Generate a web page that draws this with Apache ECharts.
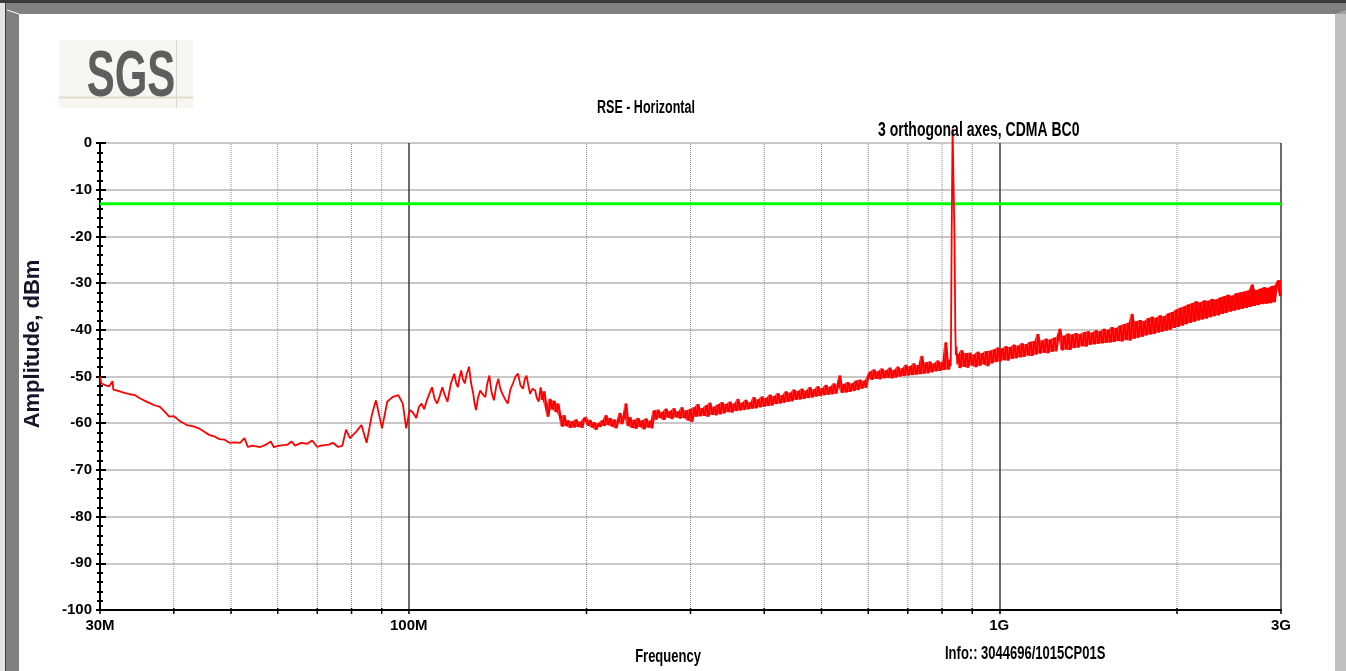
<!DOCTYPE html>
<html>
<head>
<meta charset="utf-8">
<script src="https://cdn.jsdelivr.net/npm/echarts@6/dist/echarts.min.js"></script>
<style>
  html, body { margin: 0; padding: 0; background: #ffffff; }
  #chart { width: 1346px; height: 671px; }
</style>
</head>
<body>
<div id="chart"></div>
<script>
// ---- Axis text -------------------------------------------------------------
const xTickLabels = { 30: '30M', 100: '100M', 1000: '1G', 3000: '3G' };
const minorGridMHz = [40, 50, 60, 70, 80, 90, 200, 300, 400, 500, 600, 700, 800, 900, 2000];

// ---- Limit line (dBm) ------------------------------------------------------
const limitDbm = -13;

// ---- Measured trace --------------------------------------------------------
// 30 MHz .. 166 MHz, [MHz, dBm]
const lowBand = [
  [30, -50.0], [30.15, -51.5], [30.7, -51.9], [31.1, -52.1], [31.5, -51.0], [31.6, -52.8],
  [32.2, -53.1], [32.6, -53.3], [33.0, -53.5], [33.7, -53.8], [34.4, -54.0], [35.1, -54.7],
  [35.6, -55.1], [36.3, -55.6], [37.0, -56.1], [37.9, -56.5], [38.6, -57.5], [39.3, -58.6],
  [40.0, -58.5], [40.4, -58.9], [41.0, -59.6], [42.1, -60.4], [43.2, -60.7], [44.1, -61.1],
  [45.0, -61.8], [45.9, -62.5], [46.8, -62.8], [47.8, -63.4], [48.7, -63.5], [49.7, -64.2],
  [50.8, -64.1], [51.8, -64.2], [52.7, -63.2], [53.4, -65.1], [54.3, -64.8], [56.0, -65.1],
  [57.3, -64.6], [58.4, -63.9], [59.05, -65.1], [60.4, -64.8], [62.3, -64.6], [63.3, -63.9],
  [64.2, -64.8], [65.75, -64.2], [67.3, -64.4], [68.6, -63.7], [70.0, -65.1], [71.0, -64.8],
  [73.2, -64.6], [74.4, -64.2], [75.9, -65.1], [77.2, -64.8], [78.3, -61.4], [79.5, -63.2],
  [81.5, -61.8], [83.15, -60.4], [84.85, -64.2], [86.6, -58.2], [88.0, -55.1], [90.1, -61.1],
  [91.95, -55.4], [93.8, -54.4], [96.0, -54.0], [97.7, -55.8], [99.0, -61.1], [100.35, -57.2],
  [101.5, -57.6], [103.0, -58.9], [104.0, -56.6], [105.1, -55.8], [106.2, -57.0], [107.3, -55.1],
  [108.4, -53.6], [109.5, -52.3], [110.6, -54.8], [111.7, -55.8], [112.8, -54.2], [114.0, -52.3],
  [115.1, -54.0], [116.3, -55.4], [117.8, -51.6], [119.4, -49.4], [120.3, -51.4], [121.1, -52.3],
  [121.9, -50.2], [122.7, -48.7], [123.5, -50.6], [124.4, -51.5], [125.4, -49.4], [126.5, -47.9],
  [127.5, -51.4], [128.6, -53.7], [129.3, -55.9], [130.0, -57.2], [131.0, -54.6], [132.1, -53.0],
  [133.4, -53.8], [134.8, -54.4], [135.8, -51.6], [136.9, -49.8], [138.1, -53.4], [139.4, -55.1],
  [140.6, -52.2], [141.8, -50.5], [142.9, -52.6], [144.1, -53.7], [145.6, -54.9], [147.1, -55.8],
  [148.6, -52.8], [150.1, -51.5], [151.6, -50.0], [153.1, -49.4], [154.6, -51.9], [156.2, -52.6],
  [157.2, -50.6], [158.3, -49.8], [159.4, -51.9], [160.5, -53.7], [162.1, -52.6], [163.7, -53.0],
  [164.8, -54.6], [166.0, -55.4]
];

// 167 MHz .. 826 MHz, log-spaced sweep points (dBm)
const midStartMHz = 167.2;
const midStopMHz = 826.3;
const midLevels = [
  -52.3, -55.0, -53.2, -56.4, -58.6, -54.8, -57.0, -55.2, -57.6, -55.8,
  -58.4, -60.7, -58.3, -60.6, -59.4, -61.0, -59.6, -60.9, -59.2, -60.8,
  -59.7, -61.0, -59.0, -58.6, -60.5, -59.3, -60.9, -59.8, -61.4, -60.0,
  -60.8, -59.4, -60.6, -58.3, -60.4, -58.9, -60.7, -59.2, -61.1, -59.6,
  -57.8, -60.2, -58.5, -55.8, -60.6, -58.7, -61.0, -59.3, -61.2, -58.9,
  -60.8, -59.4, -61.3, -59.0, -60.9, -59.5, -61.1, -57.3, -59.2, -57.1,
  -58.9, -57.6, -59.3, -56.9, -58.8, -57.4, -59.1, -56.8, -58.7, -57.5,
  -59.0, -56.6, -58.9, -57.3, -59.4, -57.0, -59.7, -56.6, -58.6, -55.9,
  -58.5, -56.8, -58.4, -56.2, -58.6, -55.6, -58.2, -56.5, -58.3, -56.0,
  -58.1, -55.5, -57.9, -55.9, -57.6, -55.4, -57.7, -55.8, -57.4, -54.8,
  -57.3, -55.6, -57.2, -55.0, -57.0, -55.5, -56.9, -54.4, -56.8, -54.9,
  -56.6, -54.3, -56.5, -54.6, -56.3, -53.9, -56.2, -54.2, -55.9, -53.6,
  -55.8, -54.0, -55.6, -53.2, -55.4, -53.5, -55.3, -52.8, -55.0, -53.1,
  -54.9, -52.6, -54.8, -53.0, -54.6, -52.3, -54.5, -52.8, -54.3, -52.1,
  -54.2, -52.5, -54.0, -51.8, -53.9, -52.2, -53.8, -51.5, -53.7, -51.9,
  -49.8, -53.5, -51.6, -53.4, -51.2, -53.3, -51.5, -53.1, -50.9, -52.9,
  -50.7, -52.6, -50.9, -52.4, -50.2, -49.0, -50.7, -48.5, -50.5, -48.9,
  -50.6, -48.3, -50.4, -48.7, -50.3, -48.1, -50.4, -48.6, -50.2, -47.9,
  -50.0, -48.3, -49.9, -47.5, -49.8, -47.8, -49.7, -47.2, -49.6, -47.6,
  -49.5, -45.6, -49.4, -47.0, -49.3, -46.8, -49.1, -47.2, -48.9, -46.6,
  -48.8, -46.9, -48.6, -42.7, -48.5, -46.4
];

// CDMA BC0 carrier, [MHz, dBm]
const carrier = [
  [827.6, -47.8], [828.7, -40.0], [830.6, -20.0], [833.6, 3.0], [836.9, 3.0],
  [839.8, -20.0], [842.5, -40.0], [844.3, -45.4], [846.0, -43.6], [849.2, -47.4]
];

// 852 MHz .. 3 GHz, log-spaced sweep points (dBm)
const highStartMHz = 852.5;
const highStopMHz = 3000;
const highLevels = [
  -45.2, -48.2, -44.4, -47.9, -45.0, -48.1, -44.9, -47.6, -45.3, -48.0,
  -44.7, -47.7, -45.0, -47.4, -44.6, -47.8, -44.5, -47.2, -44.2, -46.9,
  -43.8, -46.8, -44.0, -46.5, -43.5, -46.6, -43.7, -46.2, -43.2, -46.1,
  -43.4, -45.9, -42.9, -45.8, -43.1, -45.5, -42.6, -45.6, -42.4, -45.3,
  -40.9, -45.1, -42.3, -44.9, -41.9, -45.0, -42.1, -44.7, -41.7, -44.6,
  -41.5, -39.8, -44.4, -41.3, -44.2, -40.8, -44.3, -41.0, -43.9, -40.7,
  -43.8, -40.9, -43.5, -40.5, -43.6, -40.3, -43.2, -40.6, -43.1, -40.1,
  -43.0, -40.3, -42.9, -39.8, -42.8, -40.0, -42.7, -39.4, -42.6, -39.6,
  -42.4, -39.1, -42.5, -38.8, -42.2, -38.5, -42.3, -36.6, -41.9, -38.2,
  -41.7, -37.9, -41.5, -38.1, -41.2, -37.5, -41.0, -37.2, -40.9, -37.4,
  -40.6, -36.9, -40.4, -37.1, -40.2, -36.5, -40.0, -36.2, -39.6, -35.7,
  -39.4, -35.3, -39.1, -35.0, -38.8, -34.6, -38.5, -34.3, -38.3, -33.9,
  -38.0, -34.1, -37.8, -33.7, -37.6, -33.8, -37.3, -33.4, -37.1, -33.5,
  -36.9, -33.1, -36.6, -32.8, -36.4, -32.5, -36.1, -32.7, -35.9, -32.2,
  -35.7, -32.0, -35.5, -31.8, -35.3, -31.6, -35.1, -30.3, -34.9, -31.5,
  -34.7, -31.2, -34.5, -30.9, -34.4, -31.0, -34.3, -30.6, -34.1, -30.4,
  -29.4, -32.8
];

// Sweep points are evenly spaced on the log frequency scale between start and stop.
function sweep(startMHz, stopMHz, levels) {
  const n = levels.length;
  return levels.map((v, i) => [startMHz * Math.pow(stopMHz / startMHz, i / (n - 1)), v]);
}

const midSweep = sweep(midStartMHz, midStopMHz, midLevels);
const highSweep = sweep(highStartMHz, highStopMHz, highLevels);

const trace = [].concat(lowBand, midSweep, carrier, highSweep);

// Noise band of a sweep: each sample spans from itself to its neighbour;
// consecutive spans are joined into filled quads [f0, lo0, hi0, f1, lo1, hi1].
function bandQuads(points) {
  const spans = points.map((p, i) => {
    const q = points[i + 1] || points[i - 1];
    return [p[0], Math.min(p[1], q[1]), Math.max(p[1], q[1])];
  });
  const quads = [];
  for (let i = 0; i < spans.length - 1; i++) quads.push(spans[i].concat(spans[i + 1]));
  return quads;
}

// ---- Styling ---------------------------------------------------------------
const LABEL_FONT = "'Liberation Sans Narrow', 'Liberation Sans', Arial, sans-serif";
const TEXT_FONT = "'Liberation Sans', Arial, sans-serif";
const TRACE_RED = '#ff0000';

const chart = echarts.init(document.getElementById('chart'), null, { renderer: 'canvas' });

const yCommon = { type: 'value', min: -100, max: 0, interval: 10, position: 'left' };

chart.setOption({
  animation: false,
  backgroundColor: '#ffffff',
  grid: { left: 100, right: 65, top: 143, bottom: 61, containLabel: false },
  xAxis: {
    type: 'log', logBase: 10, min: 30, max: 3000,
    axisLine: { show: true, onZero: false, lineStyle: { color: '#000', width: 2 } },
    axisTick: { show: true, length: 4, lineStyle: { color: '#000', width: 1.5 } },
    axisLabel: {
      margin: 8, color: '#000', fontFamily: LABEL_FONT, fontWeight: 'bold', fontSize: 15,
      formatter: v => xTickLabels[Math.round(v)] || ''
    },
    splitLine: { show: true, lineStyle: { color: '#3a3a3a', width: 1.5 } },
    minorTick: { show: false }, minorSplitLine: { show: false }
  },
  yAxis: [
    Object.assign({}, yCommon, {
      axisLine: { show: true, onZero: false, lineStyle: { color: '#000', width: 2 } },
      axisTick: { show: true, length: 4, lineStyle: { color: '#000', width: 2 } },
      minorTick: { show: true, splitNumber: 5, length: 3, lineStyle: { color: '#000', width: 2 } },
      axisLabel: { margin: 8, color: '#000', fontFamily: LABEL_FONT, fontWeight: 'bold', fontSize: 15 },
      splitLine: { show: true, lineStyle: { color: '#c8c8c8', width: 2 } }
    }),
    Object.assign({}, yCommon, {
      axisLine: { show: false },
      axisTick: { show: true, inside: true, length: 6, lineStyle: { color: '#000', width: 2 } },
      minorTick: { show: true, splitNumber: 5, length: 3, lineStyle: { color: '#000', width: 2 } },
      axisLabel: { show: false },
      splitLine: { show: false }
    })
  ],
  series: [
    {
      // dotted minor frequency grid with its ticks on the frequency axis
      type: 'custom',
      silent: true,
      z: 1,
      data: minorGridMHz.map(f => [f, -100]),
      renderItem: (params, api) => {
        const f = api.value(0);
        const top = api.coord([f, 0]);
        const bot = api.coord([f, -100]);
        return {
          type: 'group',
          children: [
            { type: 'line', shape: { x1: top[0], y1: top[1] + 1, x2: bot[0], y2: bot[1] },
              style: { stroke: '#8a8a8a', lineWidth: 1, lineDash: [1, 1] } },
            { type: 'line', shape: { x1: bot[0], y1: bot[1] - 2, x2: bot[0], y2: bot[1] + 4 },
              style: { stroke: '#000', lineWidth: 1.5 } }
          ]
        };
      }
    },
    {
      name: 'Limit',
      type: 'line',
      z: 2,
      symbol: 'none',
      data: [[30, limitDbm], [3000, limitDbm]],
      lineStyle: { color: '#00ff00', width: 3 }
    },
    {
      // filled noise band under the swept sections of the trace
      type: 'custom',
      silent: true,
      z: 3,
      encode: { x: [0, 3], y: [1, 2, 4, 5] },
      data: bandQuads(midSweep).concat(bandQuads(highSweep)),
      renderItem: (params, api) => {
        const a0 = api.coord([api.value(0), api.value(1)]);
        const a1 = api.coord([api.value(0), api.value(2)]);
        const b0 = api.coord([api.value(3), api.value(4)]);
        const b1 = api.coord([api.value(3), api.value(5)]);
        return { type: 'polygon', shape: { points: [a0, b0, b1, a1] }, style: { fill: TRACE_RED } };
      }
    },
    {
      name: 'RSE',
      type: 'line',
      z: 4,
      symbol: 'none',
      clip: false,
      data: trace,
      lineStyle: { color: TRACE_RED, width: 1.8 }
    }
  ],
  graphic: [
    // window frame
    { type: 'rect', z: 100, shape: { x: 0, y: 0, width: 1346, height: 14 }, style: { fill: '#808080' } },
    { type: 'rect', z: 101, shape: { x: 0, y: 0, width: 1346, height: 3 }, style: { fill: '#3a3a3a' } },
    { type: 'rect', z: 100, shape: { x: 0, y: 3, width: 5, height: 668 }, style: { fill: '#e4e4e4' } },
    { type: 'rect', z: 100, shape: { x: 5, y: 3, width: 1, height: 668 }, style: { fill: '#404040' } },
    { type: 'rect', z: 100, shape: { x: 6, y: 3, width: 13, height: 668 }, style: { fill: '#808080' } },
    { type: 'line', z: 102, shape: { x1: 7, y1: 10, x2: 19, y2: 14 }, style: { stroke: '#ffffff', lineWidth: 1 } },
    { type: 'rect', z: 100, shape: { x: 1335, y: 14, width: 11, height: 657 }, style: { fill: '#c0c0c0' } },
    { type: 'polygon', z: 101, shape: { points: [[1335, 14], [1346, 10], [1346, 14]] }, style: { fill: '#a0a0a0' } },

    // logo
    { type: 'rect', z: 10, shape: { x: 59, y: 40, width: 134, height: 68 }, style: { fill: '#f8f6f1' } },
    { type: 'line', z: 11, shape: { x1: 59, y1: 97.5, x2: 193, y2: 97.5 }, style: { stroke: '#e4dccb', lineWidth: 2 } },
    { type: 'line', z: 11, shape: { x1: 176.5, y1: 40, x2: 176.5, y2: 108 }, style: { stroke: '#d6d6d6', lineWidth: 1 } },
    { type: 'text', z: 12, x: 131, y: 78, scaleY: 1.55,
      style: { text: 'SGS', font: "bold 42px " + TEXT_FONT, fill: '#5e5e5e', textAlign: 'center', textVerticalAlign: 'middle' } },

    // titles
    { type: 'text', z: 20, x: 646, y: 108, scaleY: 1.5,
      style: { text: 'RSE - Horizontal', font: "bold 12.5px " + TEXT_FONT, fill: '#000', textAlign: 'center', textVerticalAlign: 'middle' } },
    { type: 'text', z: 20, x: 878, y: 130, scaleY: 1.45,
      style: { text: '3 orthogonal axes, CDMA BC0', font: "bold 14px " + TEXT_FONT, fill: '#000', textAlign: 'left', textVerticalAlign: 'middle' } },
    { type: 'text', z: 20, x: 668, y: 657, scaleY: 1.4,
      style: { text: 'Frequency', font: "bold 13px " + TEXT_FONT, fill: '#000', textAlign: 'center', textVerticalAlign: 'middle' } },
    { type: 'text', z: 20, x: 945, y: 654, scaleY: 1.4,
      style: { text: 'Info:: 3044696/1015CP01S', font: "bold 13px " + TEXT_FONT, fill: '#000', textAlign: 'left', textVerticalAlign: 'middle' } },
    { type: 'text', z: 20, x: 33, y: 344, rotation: Math.PI / 2,
      style: { text: 'Amplitude, dBm', font: "bold 22px " + TEXT_FONT, fill: '#14142a', textAlign: 'center', textVerticalAlign: 'middle' } }
  ]
});
</script>
</body>
</html>
